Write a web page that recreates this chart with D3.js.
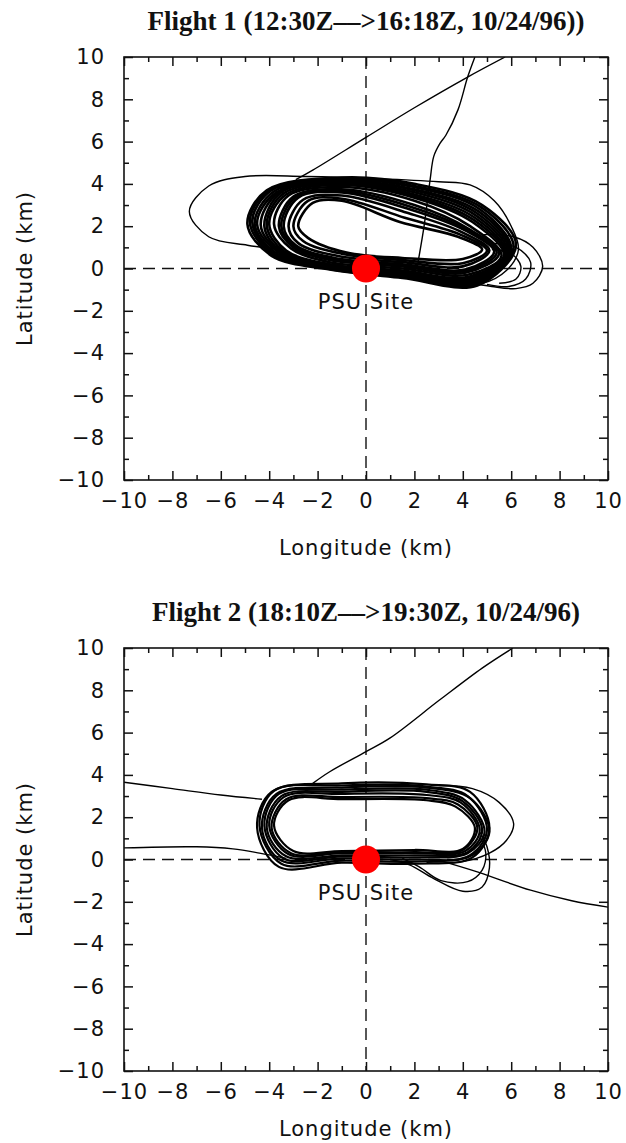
<!DOCTYPE html>
<html>
<head>
<meta charset="utf-8">
<script src="https://cdn.jsdelivr.net/npm/d3@7"></script>
<style>
  body { margin: 0; background: #fff; }
  text { fill: #111; }
</style>
</head>
<body>
<script>
// tick values (km)
var majorTicks = [-10, -8, -6, -4, -2, 0, 2, 4, 6, 8, 10];
var minorTicks = [-9, -7, -5, -3, -1, 1, 3, 5, 7, 9];

var site = [0, 0];

// flight 1 : orbits of the racetrack, [lon, lat] in km
var flight1Loops = [
  [[-4.9,2.1],[-4.1,3.7],[-1.0,4.3],[2.0,4.0],[4.8,3.0],[6.2,1.1],[4.6,-0.8],[1.5,-0.45],[-1.5,-0.05],[-3.9,0.6]],
  [[-4.8,2.2],[-4.0,3.7],[-1.0,4.25],[2.0,3.9],[4.75,2.9],[6.1,1.0],[4.55,-0.75],[1.5,-0.4],[-1.5,-0.02],[-3.85,0.65]],
  [[-4.7,2.2],[-3.9,3.7],[-1.0,4.2],[2.0,3.85],[4.7,2.8],[6.0,0.9],[4.5,-0.7],[1.5,-0.35],[-1.5,0.0],[-3.8,0.7]],
  [[-4.6,2.1],[-3.8,3.65],[-1.0,4.15],[2.0,3.75],[4.65,2.7],[5.95,0.85],[4.45,-0.65],[1.5,-0.32],[-1.5,0.05],[-3.7,0.72]],
  [[-4.5,2.1],[-3.7,3.6],[-1.0,4.1],[2.0,3.7],[4.6,2.6],[5.9,0.8],[4.4,-0.6],[1.5,-0.3],[-1.5,0.1],[-3.6,0.75]],
  [[-4.35,2.05],[-3.6,3.6],[-1.0,4.08],[2.0,3.6],[4.55,2.5],[5.85,0.75],[4.35,-0.55],[1.5,-0.25],[-1.5,0.12],[-3.55,0.78]],
  [[-4.2,2.0],[-3.5,3.6],[-1.0,4.05],[2.0,3.5],[4.5,2.4],[5.8,0.7],[4.3,-0.5],[1.5,-0.2],[-1.5,0.15],[-3.5,0.8]],
  [[-4.1,2.05],[-3.4,3.55],[-1.0,4.0],[2.0,3.42],[4.45,2.3],[5.75,0.65],[4.25,-0.45],[1.5,-0.15],[-1.5,0.18],[-3.4,0.82]],
  [[-4.0,2.1],[-3.3,3.5],[-1.0,3.95],[2.0,3.35],[4.4,2.2],[5.7,0.6],[4.2,-0.4],[1.5,-0.1],[-1.5,0.2],[-3.3,0.85]],
  [[-3.8,2.1],[-3.2,3.45],[-1.0,3.85],[2.0,3.2],[4.3,2.0],[5.6,0.6],[4.2,-0.3],[1.5,0.0],[-1.5,0.3],[-3.1,0.95]],
  [[-3.6,2.0],[-3.0,3.4],[-1.0,3.75],[2.0,3.0],[4.2,1.9],[5.5,0.7],[4.1,-0.2],[1.5,0.1],[-1.5,0.4],[-3.0,1.0]],
  [[-3.5,2.0],[-2.9,3.38],[-1.0,3.68],[1.9,2.9],[4.15,1.85],[5.4,0.75],[4.1,-0.12],[1.5,0.15],[-1.4,0.45],[-2.95,1.05]],
  [[-3.4,2.0],[-2.8,3.35],[-1.0,3.6],[1.8,2.8],[4.1,1.8],[5.3,0.8],[4.1,-0.05],[1.5,0.2],[-1.3,0.5],[-2.9,1.1]],
  [[-3.2,2.0],[-2.6,3.25],[-1.0,3.45],[1.8,2.6],[4.0,1.7],[5.1,0.85],[4.0,0.1],[1.5,0.3],[-1.2,0.6],[-2.8,1.2]],
  [[-3.0,2.0],[-2.4,3.2],[-1.0,3.3],[1.6,2.4],[3.9,1.6],[5.0,0.85],[4.0,0.25],[1.5,0.4],[-1.0,0.7],[-2.6,1.3]],
  [[-2.8,2.0],[-2.2,3.1],[-1.0,3.2],[1.4,2.2],[3.8,1.5],[4.8,0.9],[4.0,0.45],[1.5,0.5],[-0.8,0.75],[-2.4,1.45]]
];

// flight 1 : ferry legs and the odd wide orbits
var flight1Legs = [
  [[5.75,10],[4.2,9.05],[2.0,7.6],[0.0,6.2],[-2.2,4.65],[-2.9,4.2]],
  [[4.5,10],[4.2,9.05],[3.8,7.5],[3.3,6.3],[3.05,5.9],[2.8,5.3],[2.65,4.2],[2.4,2.0],[2.15,0.3]],
  [[-3.5,0.9],[-4.9,1.1],[-6.5,1.5],[-7.3,2.7],[-6.5,3.9],[-5.0,4.35],[-2.5,4.35],[0.5,4.25],[3.0,4.1],[4.3,3.95],[5.3,3.2],[6.0,2.0],[6.3,0.9],[5.8,-0.1],[4.8,-0.7],[3.5,-0.6]],
  [[4.8,1.6],[6.1,1.5],[6.9,1.0],[7.3,0.1],[6.9,-0.7],[6.2,-0.95],[5.2,-0.85],[4.2,-0.65]],
  [[5.0,1.2],[6.2,1.0],[6.8,0.3],[6.6,-0.5],[5.9,-0.85],[5.0,-0.75]],
  [[5.2,0.9],[6.0,0.7],[6.4,0.1],[6.2,-0.5],[5.5,-0.7]]
];

// flight 2 : orbits
var flight2Loops = [
  [[-4.5,1.5],[-3.9,3.2],[-1.0,3.6],[2.5,3.55],[4.3,3.2],[5.1,1.5],[4.4,0.1],[2.0,-0.2],[-1.0,-0.15],[-3.6,-0.35]],
  [[-4.4,1.6],[-3.8,3.25],[-1.0,3.5],[2.5,3.45],[4.2,3.0],[5.0,1.4],[4.3,0.2],[2.0,-0.1],[-1.0,-0.05],[-3.5,-0.2]],
  [[-4.3,1.5],[-3.7,3.1],[-1.0,3.4],[2.5,3.4],[4.3,2.9],[5.1,1.3],[4.3,0.15],[2.0,0.0],[-1.0,0.05],[-3.5,-0.05]],
  [[-4.2,1.6],[-3.6,3.1],[-1.0,3.3],[2.5,3.3],[4.1,2.8],[4.9,1.3],[4.2,0.3],[2.0,0.1],[-1.0,0.15],[-3.4,0.05]],
  [[-4.1,1.5],[-3.5,3.0],[-1.0,3.2],[2.5,3.2],[4.0,2.75],[4.8,1.4],[4.2,0.35],[2.0,0.2],[-1.0,0.2],[-3.3,0.15]],
  [[-4.0,1.6],[-3.4,2.95],[-1.0,3.1],[2.5,3.05],[3.9,2.7],[4.7,1.4],[4.1,0.4],[2.0,0.3],[-1.0,0.3],[-3.2,0.25]],
  [[-3.9,1.5],[-3.3,2.85],[-1.0,2.95],[2.5,2.9],[3.8,2.6],[4.6,1.5],[4.0,0.45],[2.0,0.35],[-1.0,0.35],[-3.1,0.3]],
  [[-3.8,1.6],[-3.2,2.8],[-1.0,2.85],[2.5,2.8],[3.7,2.5],[4.5,1.5],[4.0,0.5],[2.0,0.45],[-1.0,0.4],[-3.0,0.4]]
];

// flight 2 : legs
var flight2Legs = [
  [[6.07,10],[4.8,9.05],[3.05,7.55],[1.0,5.75],[0.0,5.1],[-1.5,4.15],[-2.2,3.6]],
  [[-10,3.65],[-8,3.35],[-6,3.05],[-4.3,2.85]],
  [[-10,0.55],[-7,0.6],[-5.5,0.5],[-4.4,0.3],[-3.3,0.05]],
  [[3.2,-0.1],[4.5,-0.55],[6.8,-1.45],[8.5,-1.95],[10,-2.25]],
  [[3.0,3.5],[4.4,3.35],[5.5,2.7],[6.1,1.7],[5.8,0.9],[5.1,0.3],[4.0,-0.1],[2.5,-0.15]],
  [[1.0,0.0],[1.8,-0.25],[2.8,-0.9],[4.0,-1.5],[4.8,-1.3],[5.1,-0.4],[5.0,0.6],[4.7,1.3]],
  [[1.5,0.05],[2.2,-0.35],[3.1,-1.0],[4.2,-1.05],[4.8,-0.5],[4.95,0.3],[4.7,1.1]]
];

var W = 484, H = 423, X0 = 124;
var sans = "'DejaVu Sans', sans-serif";

var svg = d3.select("body").append("svg")
  .attr("width", 626)
  .attr("height", 1143);

var x = d3.scaleLinear().domain([-10, 10]).range([0, W]);
var y = d3.scaleLinear().domain([-10, 10]).range([H, 0]);

function labelStyle(sel) {
  sel.style("font-family", sans).style("font-size", "21px").style("letter-spacing", "1px");
}

function drawPanel(top, id, title, loops, legs, loopWidth, xTitleGap) {
  var g = svg.append("g").attr("transform", "translate(" + X0 + "," + top + ")");

  g.append("clipPath").attr("id", id)
    .append("rect").attr("width", W).attr("height", H);

  // dashed zero lines
  g.append("line")
    .attr("x1", x(0)).attr("x2", x(0)).attr("y1", 0).attr("y2", H)
    .attr("stroke", "#111").attr("stroke-width", 1.4).attr("stroke-dasharray", "12,7");
  g.append("line")
    .attr("x1", 0).attr("x2", W).attr("y1", y(0)).attr("y2", y(0))
    .attr("stroke", "#111").attr("stroke-width", 1.4).attr("stroke-dasharray", "12,7");

  var tracks = g.append("g").attr("clip-path", "url(#" + id + ")")
    .attr("fill", "none").attr("stroke", "#000");

  var closedLine = d3.line()
    .x(function(d) { return x(d[0]); })
    .y(function(d) { return y(d[1]); })
    .curve(d3.curveCatmullRomClosed.alpha(0.5));
  var openLine = d3.line()
    .x(function(d) { return x(d[0]); })
    .y(function(d) { return y(d[1]); })
    .curve(d3.curveCatmullRom.alpha(0.5));

  tracks.selectAll("path.loop").data(loops).enter()
    .append("path").attr("class", "loop").attr("d", closedLine)
    .attr("stroke-width", loopWidth);
  tracks.selectAll("path.leg").data(legs).enter()
    .append("path").attr("class", "leg").attr("d", openLine)
    .attr("stroke-width", 1.4);

  // site marker
  g.append("circle")
    .attr("cx", x(site[0])).attr("cy", y(site[1])).attr("r", 14)
    .attr("fill", "#ff0000");
  g.append("text")
    .attr("x", x(site[0])).attr("y", y(site[1]) + 40)
    .attr("text-anchor", "middle")
    .call(labelStyle)
    .text("PSU Site");

  // ticks on all four sides, pointing in
  var sides = [
    { make: d3.axisBottom, scale: x, at: "translate(0," + H + ")", labels: true, pad: 13 },
    { make: d3.axisTop, scale: x, at: "translate(0,0)", labels: false, pad: 0 },
    { make: d3.axisLeft, scale: y, at: "translate(0,0)", labels: true, pad: 19 },
    { make: d3.axisRight, scale: y, at: "translate(" + W + ",0)", labels: false, pad: 0 }
  ];
  sides.forEach(function(s) {
    var major = g.append("g").attr("transform", s.at)
      .call(s.make(s.scale).tickValues(majorTicks).tickSize(-9).tickPadding(s.pad)
        .tickFormat(s.labels ? null : ""));
    var minor = g.append("g").attr("transform", s.at)
      .call(s.make(s.scale).tickValues(minorTicks).tickSize(-5).tickFormat(""));
    [major, minor].forEach(function(a) {
      a.select(".domain").remove();
      a.selectAll("line").attr("stroke", "#111").attr("stroke-width", 1.5);
    });
    major.selectAll("text").call(labelStyle).attr("fill", "#111");
  });

  g.append("rect")
    .attr("width", W).attr("height", H)
    .attr("fill", "none").attr("stroke", "#111").attr("stroke-width", 1.6);

  // axis titles
  g.append("text")
    .attr("x", x(0)).attr("y", H + xTitleGap)
    .attr("text-anchor", "middle")
    .call(labelStyle)
    .text("Longitude (km)");
  g.append("text")
    .attr("transform", "translate(" + (32 - X0) + "," + (H / 2) + ") rotate(-90)")
    .attr("text-anchor", "middle")
    .call(labelStyle)
    .text("Latitude (km)");

  // panel title
  g.append("text")
    .attr("x", x(0)).attr("y", -27)
    .attr("text-anchor", "middle")
    .style("font-family", "'Liberation Serif', 'Times New Roman', serif")
    .style("font-weight", "bold").style("font-size", "27px")
    .text(title);
}

drawPanel(57, "clip1", "Flight 1 (12:30Z\u2013\u2013>16:18Z, 10/24/96))", flight1Loops, flight1Legs, 2.6, 75);
drawPanel(648, "clip2", "Flight 2 (18:10Z\u2013\u2013>19:30Z, 10/24/96)", flight2Loops, flight2Legs, 2.2, 65);
</script>
</body>
</html>
